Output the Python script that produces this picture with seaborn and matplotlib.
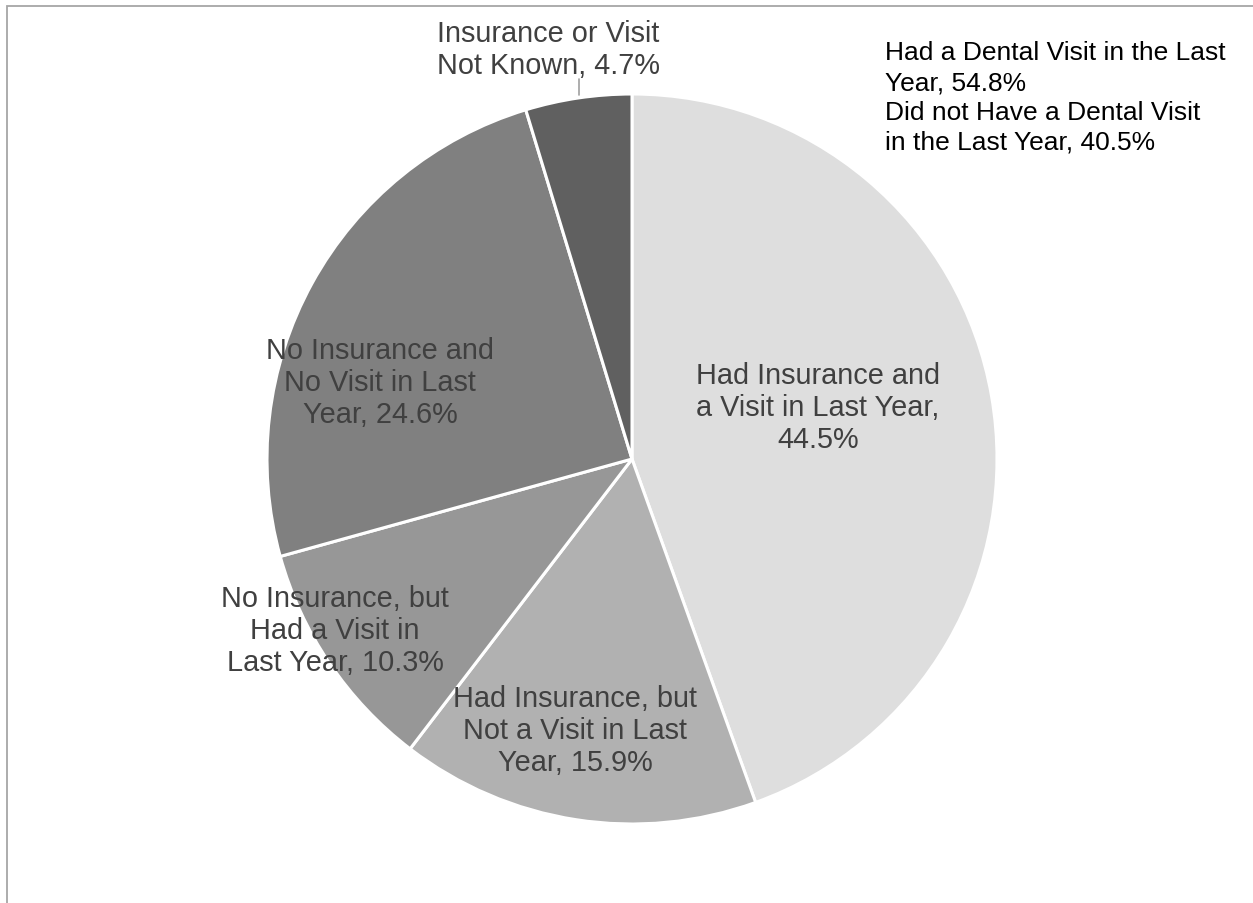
import matplotlib
matplotlib.use("Agg")
import matplotlib.pyplot as plt
from matplotlib.patches import Rectangle
import seaborn as sns

# Dental insurance / dental visit status
categories = [
    "Had Insurance and\na Visit in Last Year,\n44.5%",
    "Had Insurance, but\nNot a Visit in Last\nYear, 15.9%",
    "No Insurance, but\nHad a Visit in\nLast Year, 10.3%",
    "No Insurance and\nNo Visit in Last\nYear, 24.6%",
    "Insurance or Visit\nNot Known, 4.7%",
]
shares = [44.5, 15.9, 10.3, 24.6, 4.7]
colors = ["#DEDEDE", "#B1B1B1", "#979797", "#808080", "#606060"]

summary_lines = [
    "Had a Dental Visit in the Last",
    "Year, 54.8%",
    "Did not Have a Dental Visit",
    "in the Last Year, 40.5%",
]

sns.set_theme(style="white")
plt.rcParams["font.family"] = ["Liberation Sans", "DejaVu Sans"]

W, H = 1253, 904
fig = plt.figure(figsize=(W / 100, H / 100), dpi=100)
ax = fig.add_axes([0, 0, 1, 1])

cx, cy, r = 632, H - 460, 365
wedges, _ = ax.pie(
    shares,
    colors=colors,
    startangle=90,
    counterclock=False,
    center=(cx, cy),
    radius=r,
    wedgeprops=dict(edgecolor="white", linewidth=2.2),
    frame=True,
)
ax.set_xlim(0, W)
ax.set_ylim(0, H)
ax.set_aspect("equal")
ax.axis("off")

label_pos = [(818, 408), (575, 731), (335, 631), (380, 383), (548, 50)]
label_color = "#404040"
for text, (px, py) in zip(categories, label_pos):
    ax.text(px, H - py, text, ha="center", va="center", fontsize=20.8,
            color=label_color, linespacing=1.2)

# leader line for the small slice
ax.plot([579, 579], [H - 80, H - 96], color="#A0A0A0", lw=1.2)

# summary note in the upper right
ax.text(885, H - 98, "\n".join(summary_lines), ha="left", va="center",
        fontsize=19, color="black", linespacing=1.3)

# outer chart border
fig.patches.append(Rectangle((7 / W, -0.1), 1.2, (H - 7) / H + 0.1,
                             transform=fig.transFigure, fill=False,
                             edgecolor="#A6A6A6", linewidth=1.3))

fig.savefig("out.png", dpi=100, facecolor="white")
